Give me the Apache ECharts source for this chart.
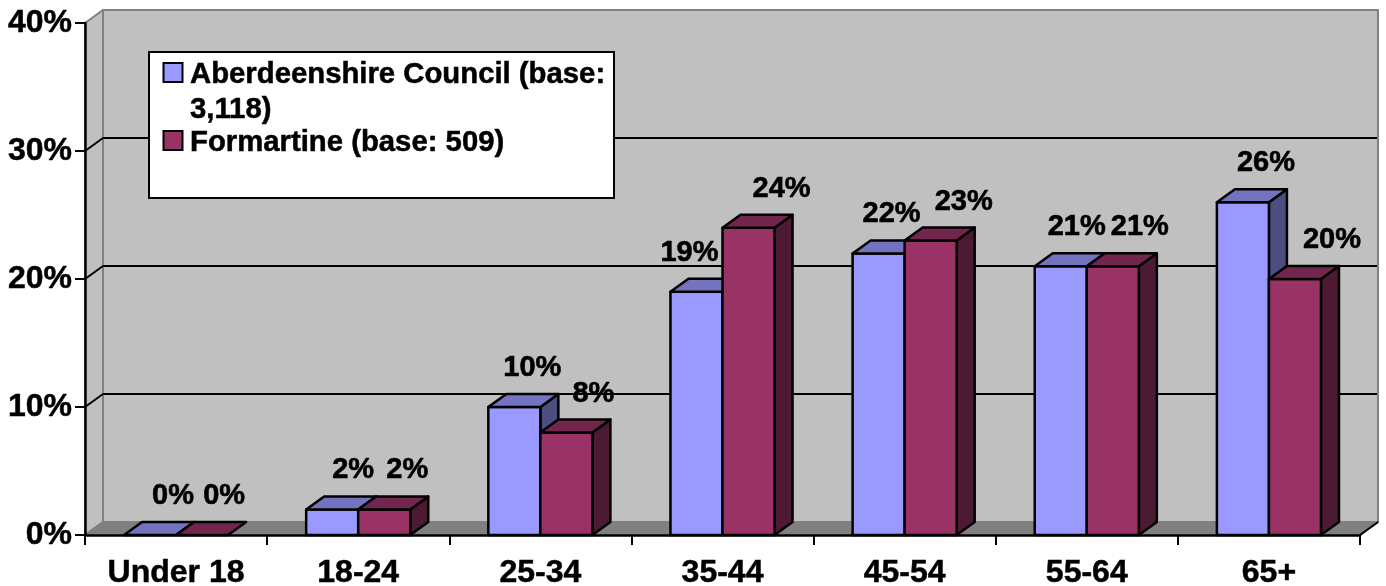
<!DOCTYPE html>
<html>
<head>
<meta charset="utf-8">
<style>html,body{margin:0;padding:0;background:#fff}#chart{width:1386px;height:586px}</style>
<script src="https://cdn.jsdelivr.net/npm/echarts@6/dist/echarts.min.js"></script>
</head>
<body>
<div id="chart"></div>
<script>
var categories = ['Under 18', '18-24', '25-34', '35-44', '45-54', '55-64', '65+'];
var aberdeenshire = [0, 2, 10, 19, 22, 21, 26];
var formartine = [0, 2, 8, 24, 23, 21, 20];
var seriesNames = ['Aberdeenshire Council (base:\n3,118)', 'Formartine (base: 509)'];
var yTicks = [0, 10, 20, 30, 40];
// horizontal nudges of the data labels, as placed in the reference
var labelShiftA = [23, 21, 18, -7, 13, 16, 23];
var labelShiftB = [22, 23, 27, 33, 33, 27, 37];

var FONT = '"Liberation Sans", Arial, sans-serif';
var DX = 18, DY = 13;

function poly(points, fill, stroke, width, z2) {
  return { type: 'polygon', z2: z2 || 0, shape: { points: points },
    style: { fill: fill, stroke: stroke, lineWidth: width, lineJoin: 'round' } };
}
function seg(a, b, color, width, z2) {
  return { type: 'line', z2: z2 || 0, shape: { x1: a[0], y1: a[1], x2: b[0], y2: b[1] },
    style: { stroke: color, lineWidth: width } };
}

function renderWalls(params, api) {
  var n = categories.length;
  var L = api.coord([0, 0])[0] - api.size([1, 0])[0] / 2;
  var R = L + api.size([1, 0])[0] * n;
  var yVal = api.value(0);
  var y = api.coord([0, yVal])[1];
  var kids = [];
  var y0 = api.coord([0, 0])[1];
  var yT = api.coord([0, 40])[1];
  if (params.dataIndex === 0) {
    kids.push(poly([[L + DX, yT - DY], [R + DX, yT - DY], [R + DX, y0 - DY], [L + DX, y0 - DY]], '#C0C0C0', '#808080', 2, 1));
    kids.push(poly([[L, yT], [L + DX, yT - DY], [L + DX, y0 - DY], [L, y0]], '#C0C0C0', '#808080', 2, 1));
    kids.push(poly([[L, y0], [L + DX, y0 - DY], [R + DX, y0 - DY], [R, y0]], '#808080', '#808080', 2, 2));
    kids.push(seg([R, y0], [R + DX, y0 - DY], '#000', 2, 3));
  } else if (yVal < 40) {
    kids.push(seg([L, y], [L + DX, y - DY], '#000', 2, 3));
    kids.push(seg([L + DX, y - DY], [R + DX - 1, y - DY], '#000', 2, 3));
  }
  return { type: 'group', children: kids };
}

function barRenderer(which, front, top, side, shifts) {
  return function (params, api) {
    var idx = api.value(0), val = api.value(1);
    var base = api.coord([idx, 0]);
    var head = api.coord([idx, val]);
    var catW = api.size([1, 0])[0];
    var w = catW / 3.5;
    var x0 = base[0] - w + which * w, x1 = x0 + w;
    var yb = base[1], yt = head[1];
    var kids = [];
    var z = 10 + params.dataIndex * 10 + which * 5;
    if (yb - yt > 0.5) {
      kids.push(poly([[x1, yt], [x1 + DX, yt - DY], [x1 + DX, yb - DY], [x1, yb]], side, '#000', 2.5, z));
      kids.push(poly([[x0, yt], [x1, yt], [x1, yb], [x0, yb]], front, '#000', 2.5, z + 1));
    }
    kids.push(poly([[x0, yt], [x0 + DX, yt - DY], [x1 + DX, yt - DY], [x1, yt]], top, '#000', 2.5, z + 2));
    kids.push({ type: 'text', z2: 200, style: {
      x: x0 + w / 2 + shifts[idx], y: yt - 39, text: val + '%', fill: '#000',
      stroke: '#000', lineWidth: 0.6,
      font: 'bold 29px ' + FONT, align: 'center', verticalAlign: 'middle' } });
    return { type: 'group', children: kids };
  };
}

var chart = echarts.init(document.getElementById('chart'), null, { renderer: 'canvas' });
chart.setOption({
  animation: false,
  backgroundColor: '#fff',
  grid: { left: 85, right: 26, top: 23, bottom: 51, outerBoundsMode: 'none' },
  xAxis: {
    type: 'category', data: categories, z: 5,
    axisLine: { lineStyle: { color: '#000', width: 2.5 } },
    axisTick: { show: true, alignWithLabel: false, interval: 0, length: 10, lineStyle: { color: '#000', width: 2 } },
    axisLabel: { color: '#000', fontFamily: FONT, fontWeight: 'bold', fontSize: 32, margin: 22, interval: 0,
      textBorderColor: '#000', textBorderWidth: 0.5 }
  },
  yAxis: {
    type: 'value', min: 0, max: 40, interval: 10, z: 5,
    axisLine: { show: true, lineStyle: { color: '#000', width: 2.5 } },
    axisTick: { show: true, length: 10, lineStyle: { color: '#000', width: 2 } },
    splitLine: { show: false },
    axisLabel: { color: '#000', fontFamily: FONT, fontWeight: 'bold', fontSize: 32, margin: 13, formatter: '{value}%',
      padding: [4, 0, 0, 0], textBorderColor: '#000', textBorderWidth: 0.5 }
  },
  series: [
    { type: 'custom', name: 'walls', z: 1, silent: true, clip: false, coordinateSystem: 'cartesian2d',
      data: yTicks.map(function (t) { return [t]; }), encode: { y: 0 }, renderItem: renderWalls },
    { type: 'custom', name: seriesNames[0], z: 7, silent: true, clip: false,
      data: aberdeenshire.map(function (v, i) { return [i, v]; }), encode: { x: 0, y: 1 },
      itemStyle: { color: '#9999FF' },
      renderItem: barRenderer(0, '#9999FF', '#7373BF', '#4D4D80', labelShiftA) },
    { type: 'custom', name: seriesNames[1], z: 7, silent: true, clip: false,
      data: formartine.map(function (v, i) { return [i, v]; }), encode: { x: 0, y: 1 },
      itemStyle: { color: '#993366' },
      renderItem: barRenderer(1, '#993366', '#73264D', '#4D1A33', labelShiftB) }
  ],
  graphic: { elements: [
    { type: 'rect', z: 20, shape: { x: 149, y: 52, width: 465, height: 146 },
      style: { fill: '#fff', stroke: '#000', lineWidth: 2 } },
    { type: 'rect', z: 21, shape: { x: 163.5, y: 63, width: 19, height: 19 },
      style: { fill: '#9999FF', stroke: '#000', lineWidth: 2 } },
    { type: 'rect', z: 21, shape: { x: 163.5, y: 131, width: 19, height: 19 },
      style: { fill: '#993366', stroke: '#000', lineWidth: 2 } },
    { type: 'text', z: 21, x: 190, y: 57, style: { text: seriesNames[0], fill: '#000',
      stroke: '#000', lineWidth: 0.5, font: 'bold 29.3px ' + FONT, lineHeight: 35 } },
    { type: 'text', z: 21, x: 190, y: 125, style: { text: seriesNames[1], fill: '#000',
      stroke: '#000', lineWidth: 0.5, font: 'bold 29.3px ' + FONT, lineHeight: 35 } }
  ] }
});
</script>
</body>
</html>
